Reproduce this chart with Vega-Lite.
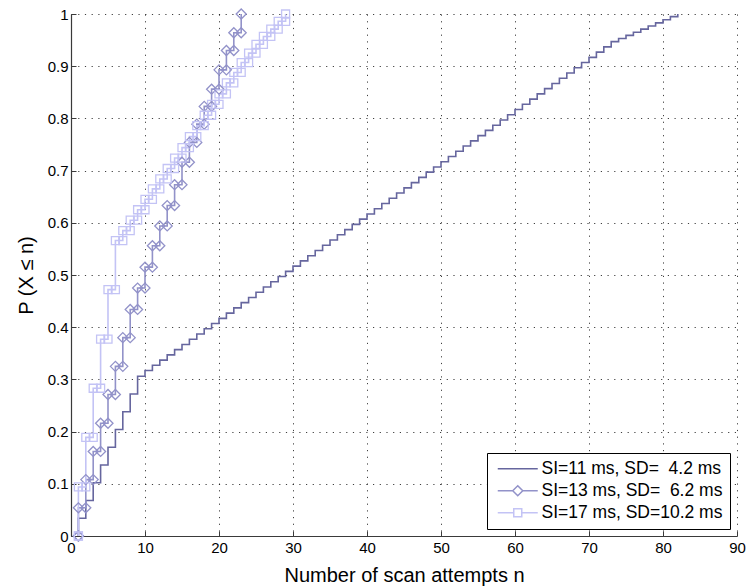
{
  "$schema": "https://vega.github.io/schema/vega-lite/v6.json",
  "width": 666,
  "height": 522,
  "autosize": {"type": "none"},
  "padding": {"left": 71, "top": 14, "right": 12, "bottom": 51},
  "background": "white",
  "config": {
    "view": {"stroke": null},
    "font": "Liberation Sans",
    "axis": {
      "domainColor": "#3a3a3a",
      "domainWidth": 1.2,
      "tickColor": "#3a3a3a",
      "tickSize": -5,
      "tickWidth": 1,
      "gridColor": "black",
      "gridDash": [1.2, 5.5],
      "gridOpacity": 0.75,
      "gridWidth": 1,
      "labelColor": "black",
      "labelFont": "Liberation Sans",
      "labelFontSize": 15,
      "titleFont": "Liberation Sans",
      "titleFontSize": 20,
      "titleFontWeight": "normal",
      "titleColor": "black"
    }
  },
  "data": {
    "values": [
      {"s":"A","n":1,"p":0},{"s":"A","n":1,"p":0.034},{"s":"A","n":2,"p":0.068},{"s":"A","n":3,"p":0.102},{"s":"A","n":4,"p":0.136},{"s":"A","n":5,"p":0.170},{"s":"A","n":6,"p":0.204},{"s":"A","n":7,"p":0.238},{"s":"A","n":8,"p":0.272},{"s":"A","n":9,"p":0.306},{"s":"A","n":10,"p":0.317},
      {"s":"A","n":11,"p":0.327},{"s":"A","n":12,"p":0.337},{"s":"A","n":13,"p":0.347},{"s":"A","n":14,"p":0.357},{"s":"A","n":15,"p":0.367},{"s":"A","n":16,"p":0.377},{"s":"A","n":17,"p":0.387},{"s":"A","n":18,"p":0.397},{"s":"A","n":19,"p":0.407},{"s":"A","n":20,"p":0.417},
      {"s":"A","n":21,"p":0.427},{"s":"A","n":22,"p":0.437},{"s":"A","n":23,"p":0.447},{"s":"A","n":24,"p":0.457},{"s":"A","n":25,"p":0.467},{"s":"A","n":26,"p":0.477},{"s":"A","n":27,"p":0.487},{"s":"A","n":28,"p":0.497},{"s":"A","n":29,"p":0.507},{"s":"A","n":30,"p":0.517},
      {"s":"A","n":31,"p":0.527},{"s":"A","n":32,"p":0.537},{"s":"A","n":33,"p":0.547},{"s":"A","n":34,"p":0.557},{"s":"A","n":35,"p":0.567},{"s":"A","n":36,"p":0.577},{"s":"A","n":37,"p":0.587},{"s":"A","n":38,"p":0.597},{"s":"A","n":39,"p":0.607},{"s":"A","n":40,"p":0.617},
      {"s":"A","n":41,"p":0.627},{"s":"A","n":42,"p":0.637},{"s":"A","n":43,"p":0.647},{"s":"A","n":44,"p":0.657},{"s":"A","n":45,"p":0.667},{"s":"A","n":46,"p":0.677},{"s":"A","n":47,"p":0.687},{"s":"A","n":48,"p":0.697},{"s":"A","n":49,"p":0.707},{"s":"A","n":50,"p":0.717},
      {"s":"A","n":51,"p":0.727},{"s":"A","n":52,"p":0.737},{"s":"A","n":53,"p":0.747},{"s":"A","n":54,"p":0.757},{"s":"A","n":55,"p":0.767},{"s":"A","n":56,"p":0.777},{"s":"A","n":57,"p":0.787},{"s":"A","n":58,"p":0.797},{"s":"A","n":59,"p":0.807},{"s":"A","n":60,"p":0.817},
      {"s":"A","n":61,"p":0.827},{"s":"A","n":62,"p":0.837},{"s":"A","n":63,"p":0.847},{"s":"A","n":64,"p":0.857},{"s":"A","n":65,"p":0.867},{"s":"A","n":66,"p":0.877},{"s":"A","n":67,"p":0.887},{"s":"A","n":68,"p":0.897},{"s":"A","n":69,"p":0.907},{"s":"A","n":70,"p":0.917},
      {"s":"A","n":71,"p":0.927},{"s":"A","n":72,"p":0.937},{"s":"A","n":73,"p":0.947},{"s":"A","n":74,"p":0.953},{"s":"A","n":75,"p":0.959},{"s":"A","n":76,"p":0.965},{"s":"A","n":77,"p":0.971},{"s":"A","n":78,"p":0.977},{"s":"A","n":79,"p":0.983},{"s":"A","n":80,"p":0.989},
      {"s":"A","n":81,"p":0.995},{"s":"A","n":82,"p":1.0},
      {"s":"B","n":1,"p":0},{"s":"B","n":1,"p":0.054},{"s":"B","n":2,"p":0.108},{"s":"B","n":3,"p":0.162},{"s":"B","n":4,"p":0.216},{"s":"B","n":5,"p":0.271},{"s":"B","n":6,"p":0.325},{"s":"B","n":7,"p":0.380},{"s":"B","n":8,"p":0.434},{"s":"B","n":9,"p":0.475},
      {"s":"B","n":10,"p":0.515},{"s":"B","n":11,"p":0.556},{"s":"B","n":12,"p":0.594},{"s":"B","n":13,"p":0.633},{"s":"B","n":14,"p":0.673},{"s":"B","n":15,"p":0.716},{"s":"B","n":16,"p":0.754},{"s":"B","n":17,"p":0.789},{"s":"B","n":18,"p":0.823},{"s":"B","n":19,"p":0.856},
      {"s":"B","n":20,"p":0.893},{"s":"B","n":21,"p":0.930},{"s":"B","n":22,"p":0.964},{"s":"B","n":23,"p":1.0},
      {"s":"C","n":1,"p":0},{"s":"C","n":1,"p":0.094},{"s":"C","n":2,"p":0.189},{"s":"C","n":3,"p":0.283},{"s":"C","n":4,"p":0.377},{"s":"C","n":5,"p":0.472},{"s":"C","n":6,"p":0.566},{"s":"C","n":7,"p":0.585},{"s":"C","n":8,"p":0.605},{"s":"C","n":9,"p":0.625},
      {"s":"C","n":10,"p":0.645},{"s":"C","n":11,"p":0.665},{"s":"C","n":12,"p":0.684},{"s":"C","n":13,"p":0.704},{"s":"C","n":14,"p":0.724},{"s":"C","n":15,"p":0.744},{"s":"C","n":16,"p":0.765},{"s":"C","n":17,"p":0.786},{"s":"C","n":18,"p":0.806},{"s":"C","n":19,"p":0.827},
      {"s":"C","n":20,"p":0.847},{"s":"C","n":21,"p":0.868},{"s":"C","n":22,"p":0.888},{"s":"C","n":23,"p":0.907},{"s":"C","n":24,"p":0.925},{"s":"C","n":25,"p":0.942},{"s":"C","n":26,"p":0.957},{"s":"C","n":27,"p":0.971},{"s":"C","n":28,"p":0.986},{"s":"C","n":29,"p":1.0}
    ]
  },
  "encoding": {
    "x": {
      "field": "n", "type": "quantitative",
      "scale": {"domain": [0, 90], "nice": false, "zero": false},
      "axis": {"values": [0,10,20,30,40,50,60,70,80,90], "title": "Number of scan attempts n", "labelPadding": 9, "titlePadding": 10, "labelFlush": false}
    },
    "y": {
      "field": "p", "type": "quantitative",
      "scale": {"domain": [0, 1], "nice": false},
      "axis": {"values": [0,0.1,0.2,0.3,0.4,0.5,0.6,0.7,0.8,0.9,1], "format": "~g", "title": "P (X ≤ n)", "labelPadding": 8, "titlePadding": 11, "labelFlush": false}
    },
    "color": {
      "field": "s", "type": "nominal",
      "scale": {"domain": ["A","B","C"], "range": ["#66669e", "#9292c9", "#c3c3f5"]},
      "legend": {
        "title": null,
        "orient": "bottom-right",
        "offset": 7,
        "padding": 7,
        "strokeColor": "black",
        "fillColor": "white",
        "labelFont": "Liberation Sans",
        "labelFontSize": 17.5,
        "labelColor": "black",
        "labelLimit": 400,
        "labelExpr": "datum.value=='A' ? 'SI=11 ms, SD=\u00a0\u00a04.2 ms' : datum.value=='B' ? 'SI=13 ms, SD=\u00a0\u00a06.2 ms' : 'SI=17 ms, SD=10.2 ms'",
        "symbolSize": 100,
        "symbolStrokeWidth": 1.5,
        "symbolOffset": 0,
        "labelOffset": 30,
        "rowPadding": 3,
        "encode": {
          "symbols": {
            "update": {
              "shape": {"signal": "datum.value=='A' ? 'M-1,0H7' : datum.value=='B' ? 'M-1,0H2M4,0H7M3,-1L4,0L3,1L2,0Z' : 'M-1,0H2.2M3.8,0H7M2.2,-0.8H3.8V0.8H2.2Z'"},
              "fill": {"value": "transparent"},
              "strokeWidth": {"value": 1.5}
            }
          }
        }
      }
    }
  },
  "layer": [
    {
      "mark": {"type": "line", "interpolate": "step-after", "strokeWidth": 1.6},
      "encoding": {"order": {"field": "p", "type": "quantitative"}}
    },
    {
      "transform": [{"filter": "datum.s != 'A'"}],
      "mark": {"type": "point", "filled": false, "strokeWidth": 1.3, "opacity": 1},
      "encoding": {
        "shape": {"field": "s", "type": "nominal", "scale": {"domain": ["B","C"], "range": ["diamond","square"]}, "legend": null},
        "size": {"field": "s", "type": "nominal", "scale": {"domain": ["B","C"], "range": [100, 64]}, "legend": null}
      }
    },
    {
      "transform": [
        {"filter": "datum.s != 'A'"},
        {"window": [{"op": "lag", "field": "p", "as": "prevp"}], "groupby": ["s"], "sort": [{"field": "p", "order": "ascending"}]},
        {"filter": "datum.prevp != null"}
      ],
      "mark": {"type": "point", "filled": false, "strokeWidth": 1.3, "opacity": 1},
      "encoding": {
        "y": {"field": "prevp", "type": "quantitative"},
        "shape": {"field": "s", "type": "nominal", "scale": {"domain": ["B","C"], "range": ["diamond","square"]}, "legend": null},
        "size": {"field": "s", "type": "nominal", "scale": {"domain": ["B","C"], "range": [100, 64]}, "legend": null}
      }
    }
  ]
}
